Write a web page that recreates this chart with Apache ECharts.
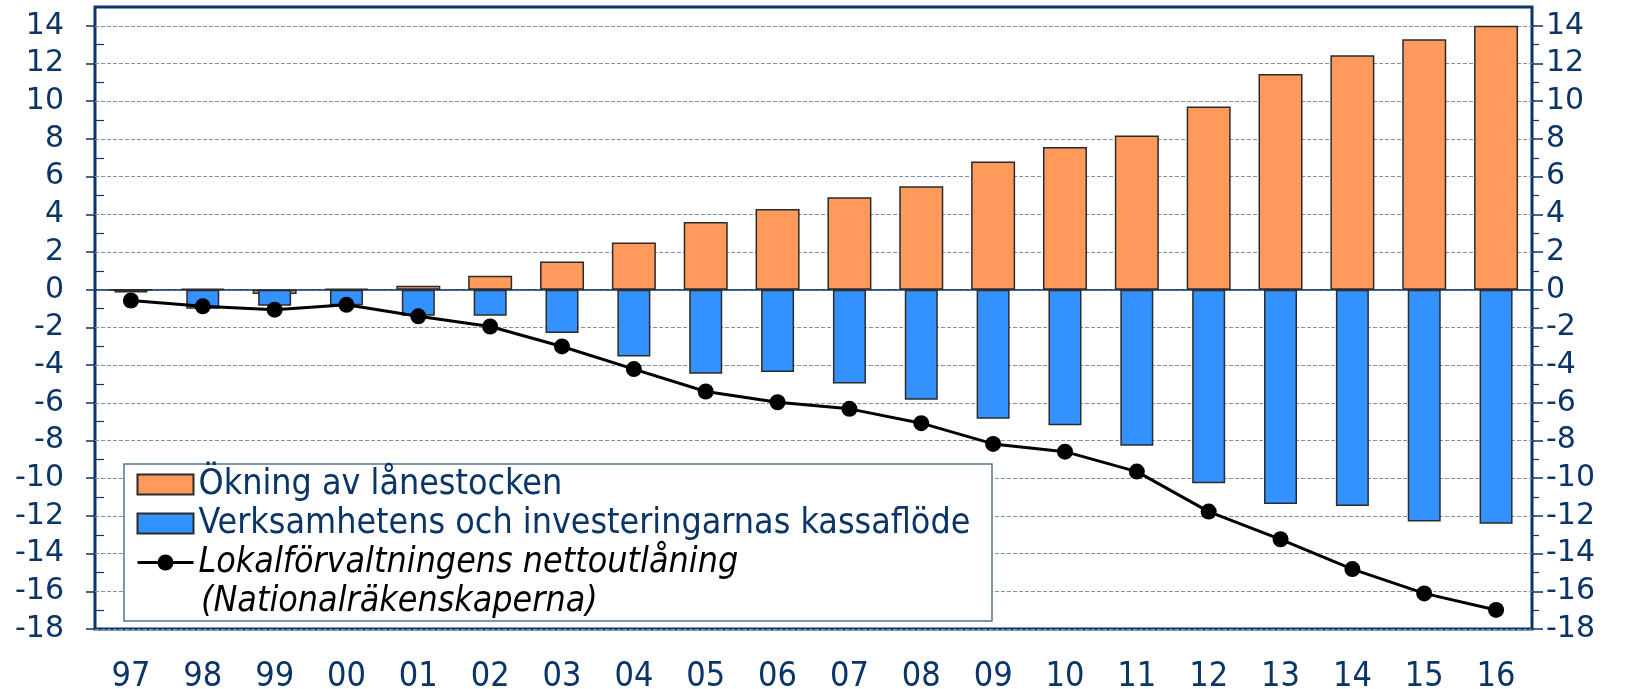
<!DOCTYPE html>
<html>
<head>
<meta charset="utf-8">
<script src="https://cdn.jsdelivr.net/npm/echarts@6/dist/echarts.min.js"></script>
<style>
  html, body { margin: 0; padding: 0; background: #fff; }
  #chart { width: 1628px; height: 689px; }
</style>
</head>
<body>
<div id="chart"></div>
<script>
// data (billions, per year)
const years = ['97', '98', '99', '00', '01', '02', '03', '04', '05', '06', '07', '08', '09', '10', '11', '12', '13', '14', '15', '16']
const loanIncrease = [0, 0.05, -0.23, 0.05, 0.21, 0.74, 1.50, 2.51, 3.59, 4.28, 4.90, 5.49, 6.80, 7.57, 8.18, 9.72, 11.45, 12.44, 13.29, 14.0]
const cashFlow = [-0.15, -1.01, -0.85, -0.83, -1.38, -1.38, -2.30, -3.54, -4.46, -4.37, -4.97, -5.84, -6.85, -7.19, -8.28, -10.27, -11.37, -11.47, -12.29, -12.41]
const netLending = [-0.57, -0.88, -1.06, -0.80, -1.41, -1.95, -3.01, -4.21, -5.40, -5.97, -6.32, -7.08, -8.18, -8.59, -9.65, -11.77, -13.24, -14.82, -16.11, -16.99]
const yMajorTicks = [-18, -16, -14, -12, -10, -8, -6, -4, -2, 0, 2, 4, 6, 8, 10, 12, 14]
const yMinorTicks = [-17, -15, -13, -11, -9, -7, -5, -3, -1, 1, 3, 5, 7, 9, 11, 13]

const names = [
  'Ökning av lånestocken',
  'Verksamhetens och investeringarnas kassaflöde',
  'Lokalförvaltningens nettoutlåning'
]
const noteLine = '(Nationalräkenskaperna)'

const navy = '#0b3568'
const tickBlue = '#4b6d9c'
const condensed = '"DejaVu Sans Condensed", "DejaVu Sans", sans-serif'

const yBase = {type: 'value', min: -18, max: 15, interval: 2}
const hidden = {show: false}

const chart = echarts.init(document.getElementById('chart'))

chart.setOption({
  animation: false,
  grid: {
    left: 95, right: 96, top: 7, bottom: 60,
    outerBoundsMode: 'none', containLabel: false,
    show: true, borderColor: navy, borderWidth: 3, backgroundColor: '#fff'
  },
  xAxis: [
    {
      type: 'category', data: years, position: 'bottom',
      axisLine: {show: false, onZero: false},
      axisTick: hidden,
      axisLabel: {fontSize: 34, fontFamily: condensed, color: navy, margin: 31}
    },
    {
      type: 'category', data: years, position: 'bottom',
      axisLine: {onZero: true, lineStyle: {color: navy, width: 1.5}},
      axisTick: {length: 11, lineStyle: {color: tickBlue, width: 1.5}},
      axisLabel: hidden
    },
    {
      type: 'category', data: years, position: 'top',
      axisLine: {onZero: true, show: false},
      axisTick: {length: 11, lineStyle: {color: tickBlue, width: 1.5}},
      axisLabel: hidden
    }
  ],
  yAxis: [
    {
      ...yBase, position: 'left',
      axisLine: hidden,
      axisTick: {show: true, length: 9, customValues: yMajorTicks, lineStyle: {color: navy, width: 1.5}},
      axisLabel: {customValues: yMajorTicks, margin: 31, fontSize: 30, fontFamily: 'DejaVu Sans', color: navy},
      splitLine: {show: true, lineStyle: {color: '#7f93b0', type: [4, 2], width: 1}}
    },
    {
      ...yBase, position: 'right',
      axisLine: hidden,
      axisTick: {show: true, length: 11, customValues: yMajorTicks, lineStyle: {color: navy, width: 1.5}},
      axisLabel: {customValues: yMajorTicks, margin: 14, fontSize: 30, fontFamily: 'DejaVu Sans', color: navy},
      splitLine: hidden
    },
    {
      ...yBase, position: 'left',
      axisLine: hidden, axisLabel: hidden, splitLine: hidden,
      axisTick: {show: true, inside: true, length: 9, customValues: yMinorTicks, lineStyle: {color: navy, width: 1.2}}
    },
    {
      ...yBase, position: 'right',
      axisLine: hidden, axisLabel: hidden, splitLine: hidden,
      axisTick: {show: true, length: 7, customValues: yMinorTicks, lineStyle: {color: navy, width: 1.2}}
    }
  ],
  legend: {
    orient: 'vertical',
    left: 136, top: 466,
    itemWidth: 56, itemHeight: 20, itemGap: 2,
    padding: 0,
    z: 5,
    textStyle: {fontSize: 35.5, lineHeight: 37, fontFamily: condensed, color: navy},
    data: [
      {name: names[0], icon: 'rect'},
      {name: names[1], icon: 'rect'},
      {name: names[2], lineStyle: {width: 3}, textStyle: {color: '#000', fontStyle: 'italic'}}
    ]
  },
  graphic: [
    {
      type: 'rect', z: 3,
      shape: {x: 124, y: 464, width: 868, height: 157},
      style: {fill: '#fff', stroke: '#5a7396', lineWidth: 1.5}
    },
    {
      type: 'text', z: 6,
      style: {
        text: noteLine, x: 201, y: 602, verticalAlign: 'middle',
        font: 'italic 35.5px ' + condensed, fill: '#000'
      }
    }
  ],
  series: [
    {
      name: names[0], type: 'bar', xAxisIndex: 0, yAxisIndex: 0,
      barWidth: 44, data: loanIncrease,
      itemStyle: {color: '#ff9a5c', borderColor: '#2b2b2b', borderWidth: 1.5}
    },
    {
      name: names[1], type: 'bar', xAxisIndex: 1, yAxisIndex: 0,
      barWidth: 33, data: cashFlow,
      itemStyle: {color: '#3392ff', borderColor: '#2b2b2b', borderWidth: 1.5}
    },
    {
      name: names[2], type: 'line', xAxisIndex: 0, yAxisIndex: 0,
      data: netLending,
      symbol: 'circle', symbolSize: 16,
      lineStyle: {color: '#000', width: 3},
      itemStyle: {color: '#000'}
    }
  ]
})
</script>
</body>
</html>
